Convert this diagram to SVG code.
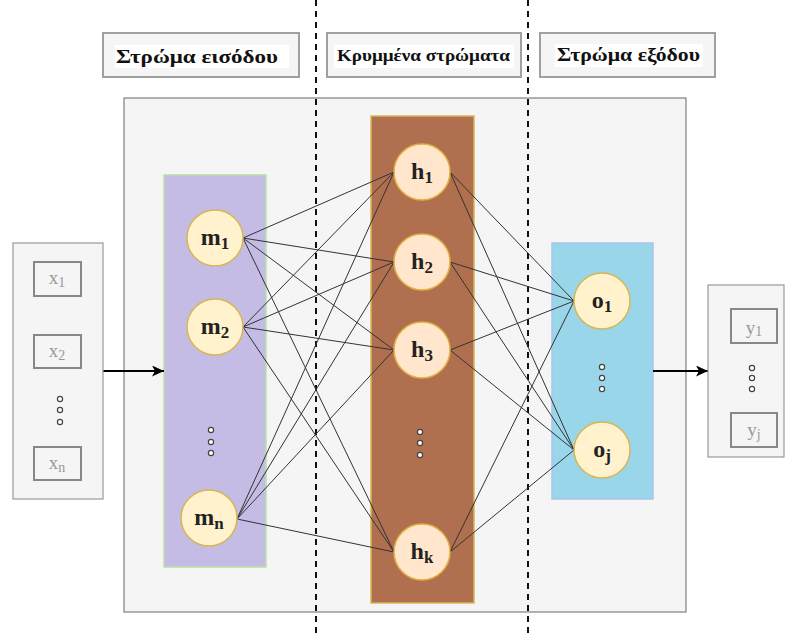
<svg xmlns="http://www.w3.org/2000/svg" width="785" height="633" viewBox="0 0 785 633">
  <defs>
    <marker id="arrow" markerWidth="12" markerHeight="11" refX="12" refY="5.5" orient="auto" markerUnits="userSpaceOnUse">
      <path d="M0,0 L12,5.5 L0,11 L3,5.5 Z" fill="#000"/>
    </marker>
    <style>
      .header-box { fill: #f5f5f5; stroke: #a0a0a0; stroke-width: 2; }
      .header-bg { fill: #ffffff; }
      .header-text { font-family: "Liberation Serif", "DejaVu Serif", serif; font-weight: bold; fill: #111; }
      .divider { stroke: #111; stroke-width: 2; stroke-dasharray: 6 5; fill: none; }
      .panel { fill: #f5f5f5; stroke: #666; stroke-width: 1; }
      .io-box { fill: #f5f5f5; stroke: #999; stroke-width: 1.2; }
      .io-item { fill: #f5f5f5; stroke: #888; stroke-width: 2; }
      .io-text { font-family: "Liberation Serif", "DejaVu Serif", serif; font-size: 19px; fill: #999; text-anchor: middle; }
      .io-sub { font-size: 14px; }
      .node-m { fill: #fff2cc; stroke: #d6b656; stroke-width: 1.5; }
      .node-h { fill: #ffe6cc; stroke: #e0b040; stroke-width: 1.5; }
      .node-text { font-family: "Liberation Serif", "DejaVu Serif", serif; font-size: 24px; font-weight: bold; fill: #222; text-anchor: middle; }
      .sub { font-size: 17px; }
      .dot { fill: #fff; stroke: #444; stroke-width: 1.2; }
      .link { stroke: #333; stroke-width: 1; fill: none; }
      .flow { stroke: #000; stroke-width: 2; fill: none; }
    </style>
  </defs>

  <!-- network panel -->
  <g id="panel">
    <rect class="panel" x="124" y="98" width="562" height="514"/>
  </g>

  <!-- section dividers -->
  <g id="dividers">
    <line class="divider" x1="316" y1="0" x2="316" y2="633"/>
    <line class="divider" x1="528" y1="0" x2="528" y2="633"/>
  </g>

  <!-- section headers -->
  <g id="header-input">
    <rect class="header-box" x="103" y="33" width="196" height="44"/>
    <rect class="header-bg" x="115" y="45" width="174" height="23"/>
    <text class="header-text" x="116" y="63" font-size="19" textLength="162" lengthAdjust="spacingAndGlyphs">Στρώμα εισόδου</text>
  </g>
  <g id="header-hidden">
    <rect class="header-box" x="327" y="33" width="194" height="44"/>
    <rect class="header-bg" x="334" y="45" width="180" height="23"/>
    <text class="header-text" x="337" y="61" font-size="16" textLength="173" lengthAdjust="spacingAndGlyphs">Κρυμμένα στρώματα</text>
  </g>
  <g id="header-output">
    <rect class="header-box" x="540" y="33" width="175" height="44"/>
    <rect class="header-bg" x="555" y="44" width="148" height="23"/>
    <text class="header-text" x="557" y="61" font-size="19" textLength="143" lengthAdjust="spacingAndGlyphs">Στρώμα εξόδου</text>
  </g>

  <!-- layer columns -->
  <g id="layer-input">
    <rect x="164" y="175" width="102" height="392" fill="#c4bce4" stroke="#b9e0a5" stroke-width="1.5"/>
  </g>
  <g id="layer-hidden">
    <rect x="371" y="116" width="103" height="487" fill="#b07050" stroke="#d6b656" stroke-width="1.5"/>
  </g>
  <g id="layer-output">
    <rect x="552" y="243" width="101" height="256" fill="#99d6ea" stroke="#a9c4eb" stroke-width="1.5"/>
  </g>

  <!-- connections -->
  <g id="connectors">
    <!-- input layer to hidden layer -->
    <line class="link" x1="243" y1="238" x2="394" y2="172"/>
    <line class="link" x1="243" y1="238" x2="394" y2="262"/>
    <line class="link" x1="243" y1="238" x2="394" y2="350"/>
    <line class="link" x1="243" y1="238" x2="394" y2="552"/>
    <line class="link" x1="243" y1="327" x2="394" y2="172"/>
    <line class="link" x1="243" y1="327" x2="394" y2="262"/>
    <line class="link" x1="243" y1="327" x2="394" y2="350"/>
    <line class="link" x1="243" y1="327" x2="394" y2="552"/>
    <line class="link" x1="237" y1="519" x2="394" y2="172"/>
    <line class="link" x1="237" y1="519" x2="394" y2="262"/>
    <line class="link" x1="237" y1="519" x2="394" y2="350"/>
    <line class="link" x1="237" y1="519" x2="394" y2="552"/>
    <!-- hidden layer to output layer -->
    <line class="link" x1="450" y1="172" x2="574" y2="301"/>
    <line class="link" x1="450" y1="172" x2="574" y2="450"/>
    <line class="link" x1="450" y1="262" x2="574" y2="301"/>
    <line class="link" x1="450" y1="262" x2="574" y2="450"/>
    <line class="link" x1="450" y1="350" x2="574" y2="301"/>
    <line class="link" x1="450" y1="350" x2="574" y2="450"/>
    <line class="link" x1="450" y1="552" x2="574" y2="301"/>
    <line class="link" x1="450" y1="552" x2="574" y2="450"/>
    <!-- data flow in and out -->
    <line class="flow" x1="103" y1="371" x2="164" y2="371" marker-end="url(#arrow)"/>
    <line class="flow" x1="653" y1="371" x2="708" y2="371" marker-end="url(#arrow)"/>
  </g>

  <!-- input vector -->
  <g id="inputs">
    <rect class="io-box" x="13" y="243" width="90" height="256"/>
    <rect class="io-item" x="34" y="262" width="47" height="34"/>
    <text class="io-text" x="57" y="284">x<tspan class="io-sub" dy="3">1</tspan></text>
    <rect class="io-item" x="34" y="335" width="47" height="33"/>
    <text class="io-text" x="57" y="357">x<tspan class="io-sub" dy="3">2</tspan></text>
    <circle class="dot" cx="60" cy="399" r="2.6"/>
    <circle class="dot" cx="60" cy="410" r="2.6"/>
    <circle class="dot" cx="60" cy="422" r="2.6"/>
    <rect class="io-item" x="34" y="447" width="47" height="33"/>
    <text class="io-text" x="57" y="469">x<tspan class="io-sub" dy="3">n</tspan></text>
  </g>

  <!-- input layer nodes -->
  <g id="node-m1">
    <circle class="node-m" cx="215" cy="238" r="28"/>
    <text class="node-text" x="215" y="245">m<tspan class="sub" dy="4">1</tspan></text>
  </g>
  <g id="node-m2">
    <circle class="node-m" cx="215" cy="327" r="28"/>
    <text class="node-text" x="215" y="334">m<tspan class="sub" dy="4">2</tspan></text>
  </g>
  <g id="dots-m">
    <circle class="dot" cx="211" cy="430" r="2.6"/>
    <circle class="dot" cx="211" cy="442" r="2.6"/>
    <circle class="dot" cx="211" cy="453" r="2.6"/>
  </g>
  <g id="node-mn">
    <circle class="node-m" cx="209" cy="518" r="28"/>
    <text class="node-text" x="209" y="525">m<tspan class="sub" dy="4">n</tspan></text>
  </g>

  <!-- hidden layer nodes -->
  <g id="node-h1">
    <circle class="node-h" cx="422" cy="172" r="28"/>
    <text class="node-text" x="422" y="179">h<tspan class="sub" dy="4">1</tspan></text>
  </g>
  <g id="node-h2">
    <circle class="node-h" cx="422" cy="262" r="28"/>
    <text class="node-text" x="422" y="269">h<tspan class="sub" dy="4">2</tspan></text>
  </g>
  <g id="node-h3">
    <circle class="node-h" cx="422" cy="350" r="28"/>
    <text class="node-text" x="422" y="357">h<tspan class="sub" dy="4">3</tspan></text>
  </g>
  <g id="dots-h">
    <circle class="dot" cx="420" cy="432" r="2.6"/>
    <circle class="dot" cx="420" cy="443" r="2.6"/>
    <circle class="dot" cx="420" cy="455" r="2.6"/>
  </g>
  <g id="node-hk">
    <circle class="node-h" cx="422" cy="552" r="28"/>
    <text class="node-text" x="422" y="559">h<tspan class="sub" dy="4">k</tspan></text>
  </g>

  <!-- output layer nodes -->
  <g id="node-o1">
    <circle class="node-m" cx="602" cy="301" r="28"/>
    <text class="node-text" x="602" y="308">o<tspan class="sub" dy="4">1</tspan></text>
  </g>
  <g id="dots-o">
    <circle class="dot" cx="602" cy="367" r="2.6"/>
    <circle class="dot" cx="602" cy="378" r="2.6"/>
    <circle class="dot" cx="602" cy="389" r="2.6"/>
  </g>
  <g id="node-oj">
    <circle class="node-m" cx="602" cy="450" r="28"/>
    <text class="node-text" x="602" y="457">o<tspan class="sub" dy="4">j</tspan></text>
  </g>

  <!-- output vector -->
  <g id="outputs">
    <rect class="io-box" x="708" y="285" width="76" height="172"/>
    <rect class="io-item" x="731" y="309" width="46" height="34"/>
    <text class="io-text" x="754" y="334">y<tspan class="io-sub" dy="2">1</tspan></text>
    <circle class="dot" cx="752" cy="368" r="2.6"/>
    <circle class="dot" cx="752" cy="378" r="2.6"/>
    <circle class="dot" cx="752" cy="389" r="2.6"/>
    <rect class="io-item" x="731" y="413" width="46" height="34"/>
    <text class="io-text" x="754" y="436">y<tspan class="io-sub" dy="3">j</tspan></text>
  </g>
</svg>
